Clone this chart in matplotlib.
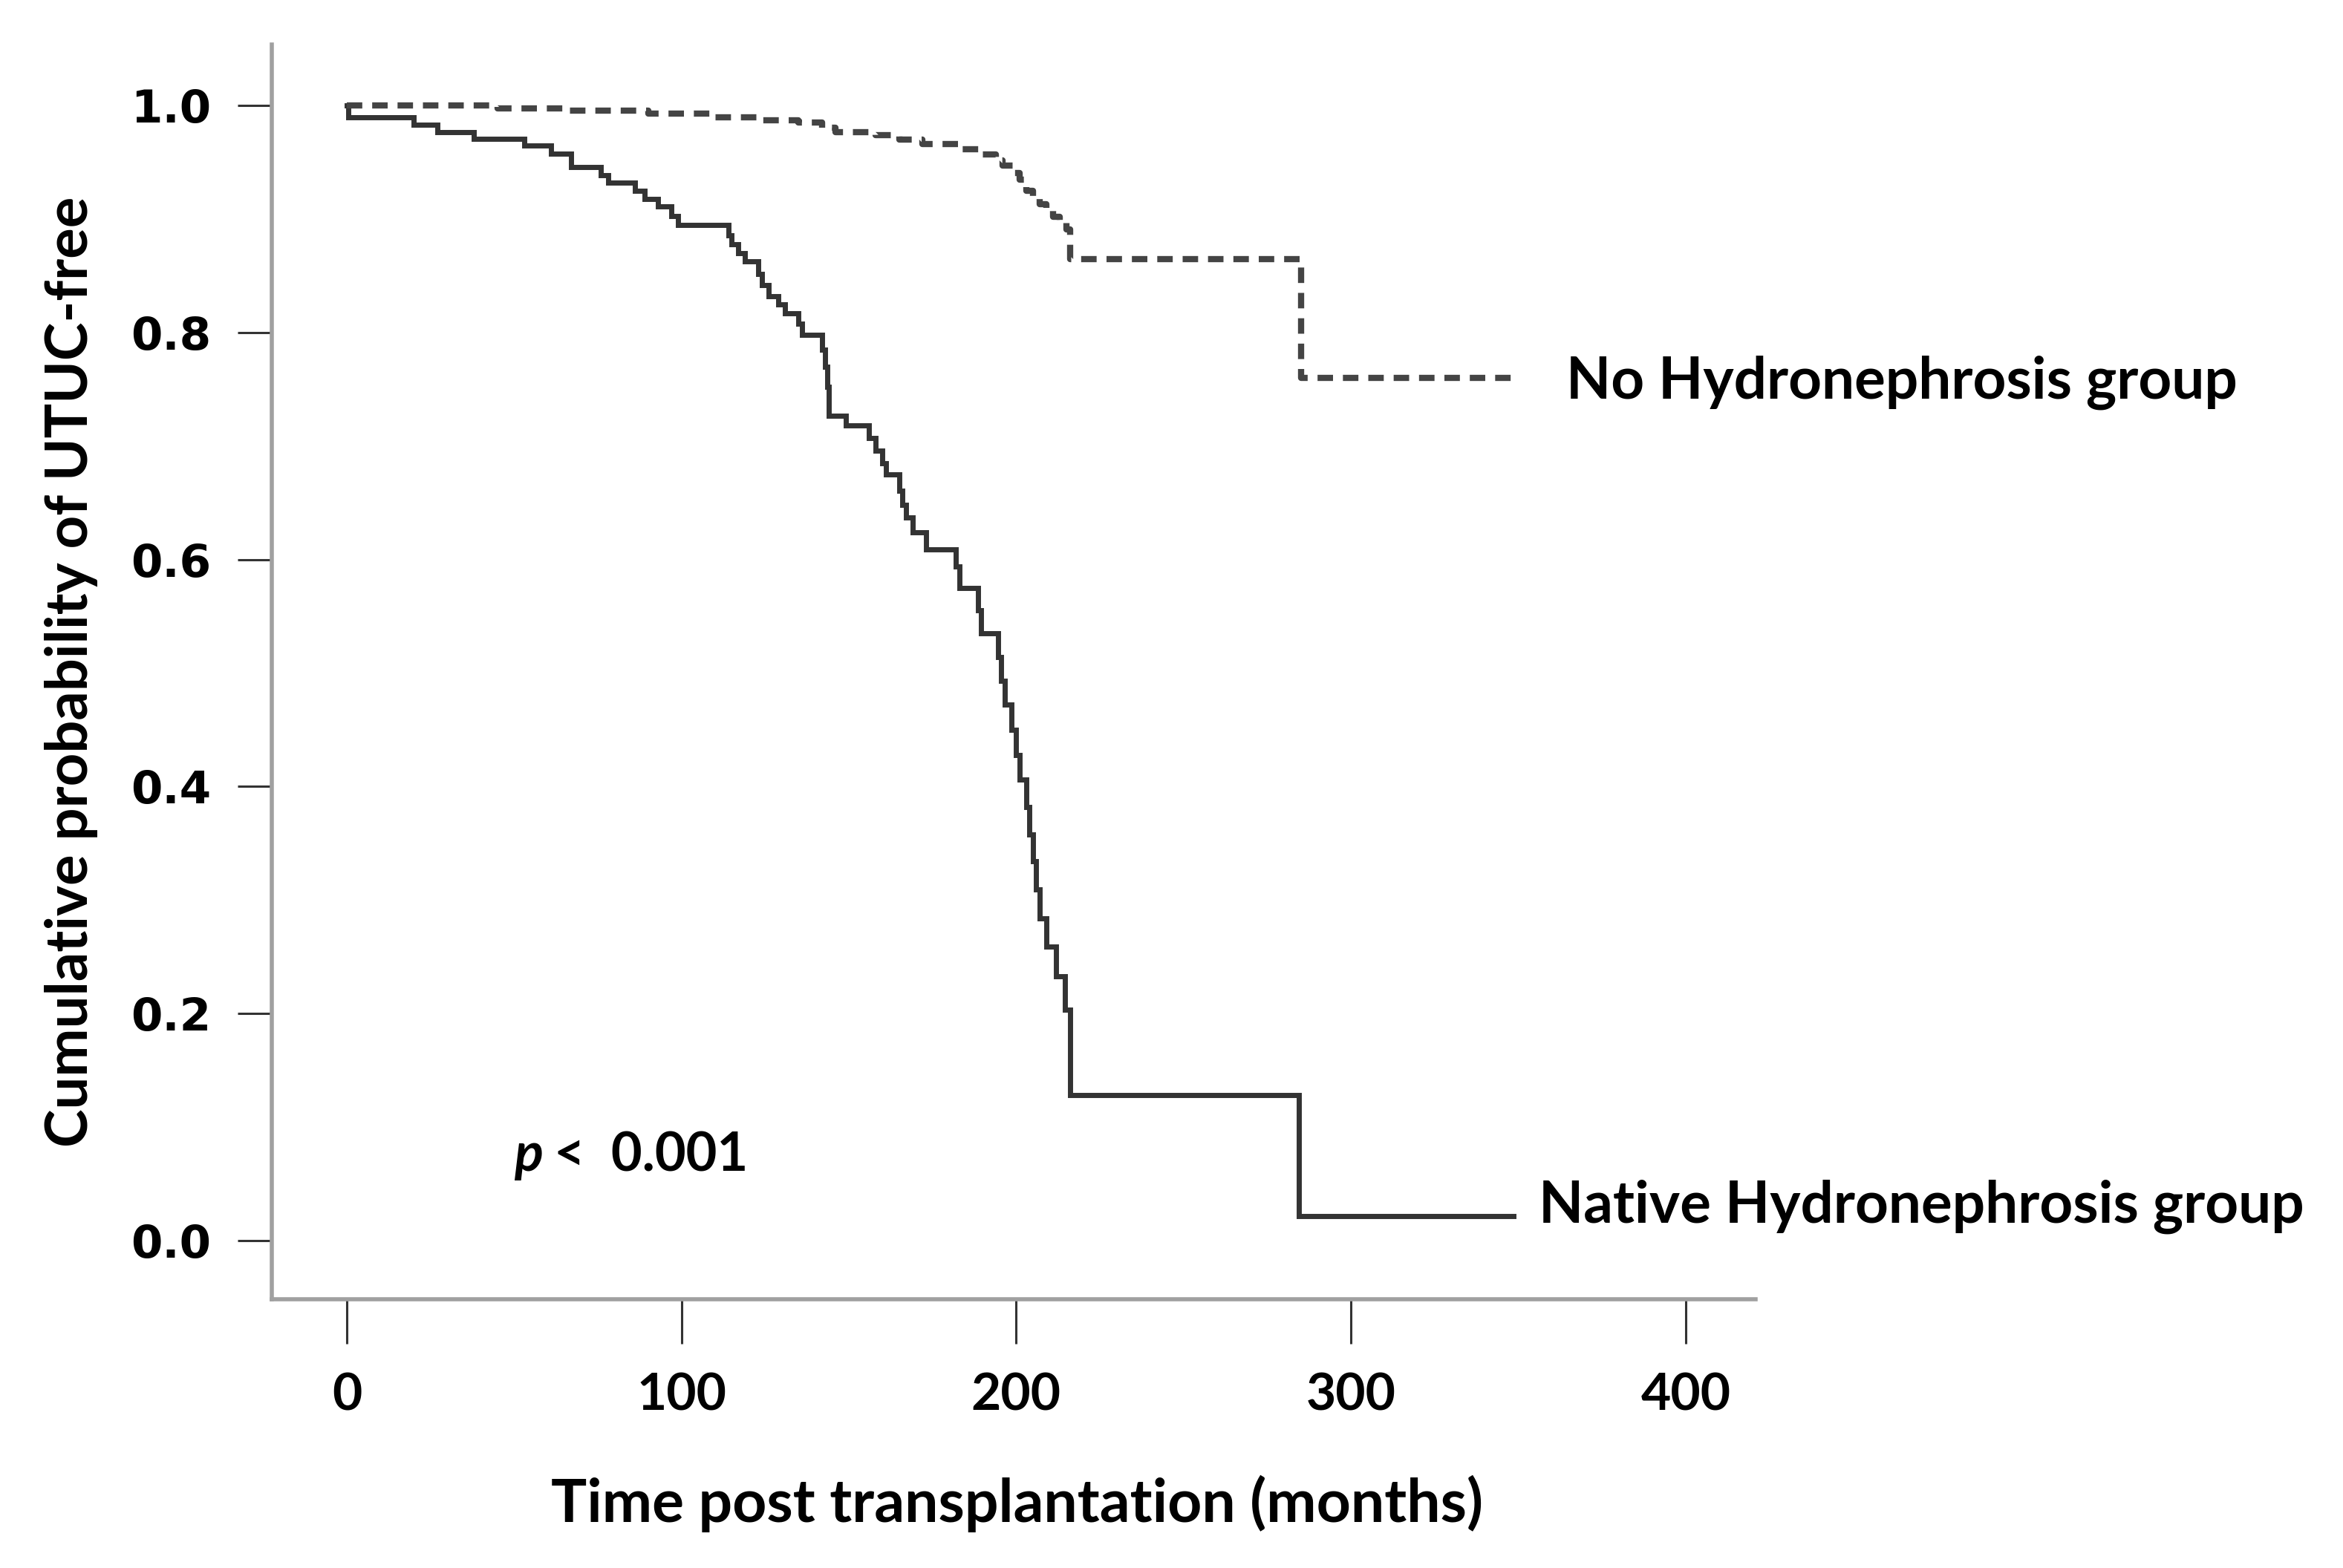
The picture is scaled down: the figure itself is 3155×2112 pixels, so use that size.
import matplotlib
matplotlib.use("Agg")
import matplotlib.pyplot as plt

# Kaplan-Meier steps (months, UTUC-free probability)
native_t = [0, 0.5, 20, 27, 38, 53, 61, 67, 76, 78, 86, 89, 93, 97, 99, 114, 115, 117, 119, 123, 124,
            126, 129, 131, 135, 136, 142, 143, 143.5, 144, 149, 156, 158, 160, 161, 165, 166, 167, 169,
            173, 182, 183, 188.5, 189.5, 194.5, 195.5, 196.5, 198.5, 200, 201, 203, 204, 205, 206, 207,
            209, 212, 214.6, 216, 284.5]
native_s = [1.000, 0.990, 0.983, 0.977, 0.971, 0.965, 0.958, 0.946, 0.939, 0.932, 0.925, 0.918, 0.911,
            0.903, 0.895, 0.886, 0.878, 0.870, 0.863, 0.852, 0.842, 0.832, 0.825, 0.817, 0.808, 0.798,
            0.785, 0.770, 0.752, 0.727, 0.718, 0.707, 0.696, 0.685, 0.675, 0.661, 0.648, 0.637, 0.624,
            0.609, 0.594, 0.575, 0.555, 0.535, 0.514, 0.493, 0.472, 0.450, 0.428, 0.406, 0.382, 0.358,
            0.334, 0.309, 0.284, 0.259, 0.233, 0.203, 0.128, 0.021]
native_end = 348.5

none_t = [0, 45, 66, 90, 110, 124, 135, 142, 146, 158, 165, 172, 184, 190, 194, 196, 199, 201, 203,
          205, 207, 209, 211, 213, 215, 216, 285]
none_s = [1.000, 0.998, 0.996, 0.993, 0.990, 0.987, 0.985, 0.981, 0.977, 0.974, 0.970, 0.966, 0.962,
          0.957, 0.952, 0.947, 0.941, 0.935, 0.925, 0.919, 0.913, 0.908, 0.902, 0.897, 0.891, 0.865, 0.760]
none_end = 348.5

x_ticks = [0, 100, 200, 300, 400]
y_ticks = [0.0, 0.2, 0.4, 0.6, 0.8, 1.0]
y_tick_labels = ["0.0", "0.2", "0.4", "0.6", "0.8", "1.0"]

lbl_font = ["Lato", "DejaVu Sans"]

fig = plt.figure(figsize=(15.775, 10.56), dpi=200)
ax = fig.add_axes([0.116, 0.1714, 0.6333, 0.8002])

ax.step(native_t + [native_end], native_s + [native_s[-1]], where="post",
        color="#333333", lw=2.5, solid_joinstyle="miter")
ax.step(none_t + [none_end], none_s + [none_s[-1]], where="post",
        color="#444444", lw=3.0, linestyle=(0, (2.5, 1.6)))

ax.set_xlim(-22.4, 420.9)
ax.set_ylim(-0.052, 1.054)

for s in ["top", "right"]:
    ax.spines[s].set_visible(False)
for s in ["left", "bottom"]:
    ax.spines[s].set_color("#a0a0a0")
    ax.spines[s].set_linewidth(2.0)

ax.set_xticks(x_ticks)
ax.set_xticklabels([str(v) for v in x_ticks], fontfamily=lbl_font, fontweight="bold", fontsize=25)
ax.set_yticks(y_ticks)
ax.set_yticklabels(y_tick_labels, fontfamily="DejaVu Sans", fontweight="bold", fontsize=22)
ax.tick_params(axis="x", length=21.6, width=1.1, color="#333333", pad=14)
ax.tick_params(axis="y", length=16.5, width=1.1, color="#333333", pad=13)

ax.set_xlabel("Time post transplantation (months)", fontfamily=lbl_font, fontweight="bold", fontsize=29)
ax.set_ylabel("Cumulative probability of UTUC-free", fontfamily=lbl_font, fontweight="bold", fontsize=28)
ax.xaxis.set_label_coords(0.5025, -0.14)
ax.yaxis.set_label_coords(-0.117, 0.5)

ax.text(364.3, 0.742, "No Hydronephrosis group", fontfamily=lbl_font, fontweight="bold",
        fontsize=28.2, va="baseline", ha="left", clip_on=False)
ax.text(356.1, 0.016, "Native Hydronephrosis group", fontfamily=lbl_font, fontweight="bold",
        fontsize=28.2, va="baseline", ha="left", clip_on=False)

ax.text(50.0, 0.061, "p", fontfamily=lbl_font, fontweight="bold", fontstyle="italic",
        fontsize=26, va="baseline", ha="left")
ax.text(62.0, 0.061, "<  0.001", fontfamily=lbl_font, fontweight="bold",
        fontsize=26, va="baseline", ha="left")

fig.savefig("out.png", dpi=200)
